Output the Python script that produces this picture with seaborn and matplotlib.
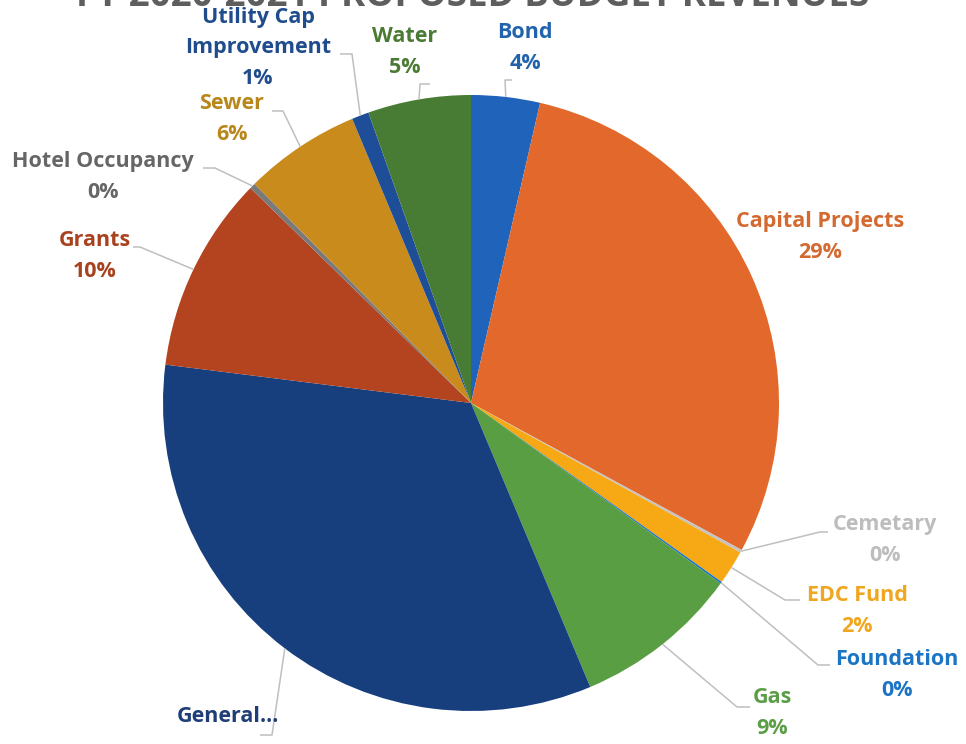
import numpy as np
import matplotlib
matplotlib.use("Agg")
import matplotlib.pyplot as plt
import seaborn as sns

# Revenue shares by fund (percent of total)
funds = ["Bond", "Capital Projects", "Cemetary", "EDC Fund", "Foundation", "Gas",
         "General", "Grants", "Hotel Occupancy", "Sewer", "Utility Cap Improvement", "Water"]
shares = [3.6, 29.3, 0.15, 1.8, 0.1, 8.7, 33.3, 10.3, 0.3, 6.1, 0.9, 5.4]

wedge_colors = ["#1F63BA", "#E2692B", "#C4C4C4", "#F6A915", "#1A74C6", "#5A9E43",
                "#173F7E", "#B4431F", "#7A7A7A", "#C98B1B", "#1E4E98", "#487B33"]
text_colors = ["#2263AE", "#D46A30", "#BDBDBD", "#F0A61E", "#1B74C4", "#5C9D47",
               "#1F3D76", "#A8421E", "#666666", "#B9861A", "#1F4C8C", "#4B7A35"]

# label text shown next to each wedge
display_names = ["Bond", "Capital Projects", "Cemetary", "EDC Fund", "Foundation", "Gas",
                 "General…", "Grants", "Hotel Occupancy", "Sewer", "Utility Cap\nImprovement", "Water"]
show_pct = [True, True, True, True, True, True, False, True, True, True, True, True]

title = "FY 2020-2021 PROPOSED BUDGET REVENUES"

W, H = 966, 744
sns.set_theme(style="white")
plt.rcParams["font.family"] = ["Open Sans", "DejaVu Sans"]

fig = plt.figure(figsize=(W / 100, H / 100), dpi=100)
ax = fig.add_axes([0, 0, 1, 1])


def py(y):
    """pixel row (from top) -> data y"""
    return H - y


cx, cy, R = 471, py(403), 308
wedges, _ = ax.pie(shares, colors=wedge_colors, startangle=90, counterclock=False,
                   center=(cx, cy), radius=R, wedgeprops=dict(linewidth=0))

ax.set_xlim(0, W)
ax.set_ylim(0, H)
ax.set_aspect("equal")
ax.axis("off")

values = np.array(shares)
pcts = values / values.sum() * 100

# label centre, leader elbow and leader end (pixel coords)
label_pos = {
    "Bond": (525, 48), "Capital Projects": (820, 237), "Cemetary": (885, 540),
    "EDC Fund": (857, 611), "Foundation": (897, 675), "Gas": (772, 713),
    "General": (228, 716), "Grants": (95, 256), "Hotel Occupancy": (103, 177),
    "Sewer": (232, 119), "Utility Cap Improvement": (258, 48), "Water": (405, 52),
}
leaders = {
    "Bond": [(505, 80), (512, 80)],
    "Water": [(420, 84), (430, 84)],
    "Utility Cap Improvement": [(352, 54), (340, 54)],
    "Sewer": [(283, 111), (272, 111)],
    "Hotel Occupancy": [(215, 168), (203, 168)],
    "Grants": [(140, 247), (133, 247)],
    "Cemetary": [(820, 532), (828, 532)],
    "EDC Fund": [(785, 600), (800, 600)],
    "Foundation": [(818, 665), (830, 665)],
    "Gas": [(737, 707), (750, 707)],
    "General": [(272, 735), (260, 735)],
}

for w, name, disp, pct, tc, sp in zip(wedges, funds, display_names, pcts,
                                        text_colors, show_pct):
    mid = np.deg2rad((w.theta1 + w.theta2) / 2)
    ex, ey = cx + R * np.cos(mid), cy + R * np.sin(mid)
    if name in leaders:
        pts = [(ex, ey)] + [(x, py(y)) for x, y in leaders[name]]
        xs, ys = zip(*pts)
        ax.plot(xs, ys, color="#BFBFBF", lw=1.1, solid_capstyle="butt", zorder=1)
    txt = f"{disp}\n{pct:.0f}%" if sp else disp
    lx, ly = label_pos[name]
    ax.text(lx, py(ly), txt, ha="center", va="center", color=tc, fontsize=15.5,
            fontweight="bold", linespacing=1.58, zorder=3)

ax.text(W / 2 - 10, py(6), title, ha="center", va="baseline", color="#5E5E5E",
        fontsize=26.5, fontweight="bold", zorder=3)

fig.savefig("out.png", dpi=100)
